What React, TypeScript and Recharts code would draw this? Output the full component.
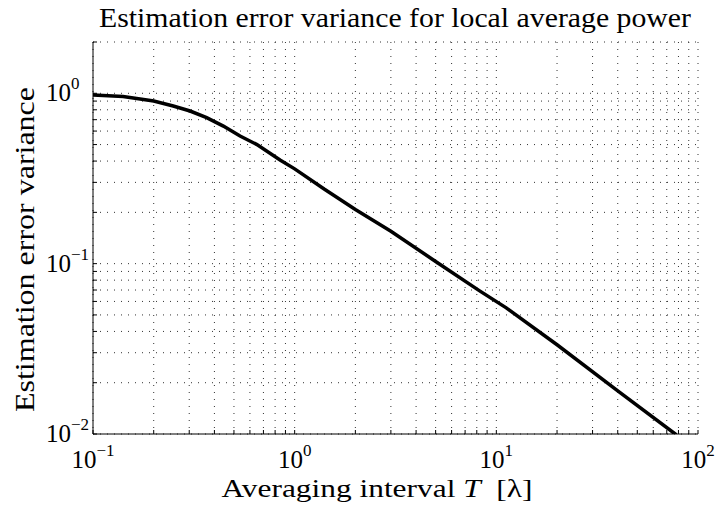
import { CartesianGrid, Line, LineChart, XAxis, YAxis } from "recharts";

// averaging interval T [lambda] and the estimation error variance
const intervalT = [0.1, 0.141, 0.2, 0.25, 0.303, 0.366, 0.443, 0.536, 0.65, 0.85, 1, 1.4, 2, 3, 5, 8.3, 11.2, 20, 40, 78];
const errorVariance = [
  0.977, 0.956, 0.9, 0.842, 0.787, 0.72, 0.642, 0.561, 0.5, 0.405, 0.36, 0.274, 0.208, 0.155, 0.103, 0.069, 0.055,
  0.0334, 0.0179, 0.0099,
];

const xDecades = [0.1, 1, 10, 100];
const yDecades = [0.01, 0.1, 1];
const minorSteps = [1, 2, 3, 4, 5, 6, 7, 8, 9];
const exponentLabels: Record<number, string> = { 0.01: "−2", 0.1: "−1", 1: "0", 10: "1", 100: "2" };

const xTicks = [...xDecades.slice(0, -1).flatMap((d) => minorSteps.map((m) => d * m)), 100];
const yTicks = yDecades.flatMap((d) => minorSteps.map((m) => d * m)).filter((v) => v <= 2.0001);

const data = intervalT.map((t, i) => ({ t, v: errorVariance[i] }));

const FONT = '"Liberation Serif", "Times New Roman", serif';

function XTick({ x, y, payload }: any) {
  const e = exponentLabels[payload.value];
  if (e === undefined) return <g />;
  return (
    <text x={x} y={y + 36} textAnchor="middle" style={{ fontFamily: FONT, fontSize: 25 }} fill="#000">
      <tspan>10</tspan>
      <tspan dy={-12} style={{ fontSize: 17 }}>{e}</tspan>
    </text>
  );
}

function YTick({ x, y, payload }: any) {
  const e = exponentLabels[payload.value];
  if (e === undefined) return <g />;
  return (
    <text x={x - 49} y={y + 8} textAnchor="start" style={{ fontFamily: FONT, fontSize: 25 }} fill="#000">
      <tspan>10</tspan>
      <tspan dy={-12} style={{ fontSize: 17 }}>{e}</tspan>
    </text>
  );
}

const noLabel = () => <g />;

export default function App() {
  return (
    <div style={{ position: "absolute", left: 0, top: 0, width: 717, height: 516, background: "#fff" }}>
      <LineChart width={717} height={516} data={data} margin={{ top: 42, right: 19, bottom: 42, left: 33 }}>
        <CartesianGrid stroke="#333" strokeDasharray="1 6" />
        <XAxis
          dataKey="t"
          type="number"
          scale="log"
          domain={[0.1, 100]}
          ticks={xTicks}
          interval={0}
          allowDataOverflow
          height={40}
          tickSize={-4}
          tickLine={{ stroke: "#000" }}
          axisLine={{ stroke: "#000" }}
          tick={<XTick />}
        />
        <XAxis
          xAxisId="top"
          orientation="top"
          type="number"
          scale="log"
          domain={[0.1, 100]}
          ticks={xTicks}
          interval={0}
          allowDataOverflow
          height={0}
          tickSize={-4}
          tickLine={{ stroke: "#000" }}
          axisLine={{ stroke: "#000" }}
          tick={noLabel}
        />
        <YAxis
          type="number"
          scale="log"
          domain={[0.01, 2]}
          ticks={yTicks}
          interval={0}
          allowDataOverflow
          width={60}
          tickSize={-4}
          tickLine={{ stroke: "#000" }}
          axisLine={{ stroke: "#000" }}
          tick={<YTick />}
        />
        <YAxis
          yAxisId="right"
          orientation="right"
          type="number"
          scale="log"
          domain={[0.01, 2]}
          ticks={yTicks}
          interval={0}
          allowDataOverflow
          width={0}
          tickSize={-4}
          tickLine={{ stroke: "#000" }}
          axisLine={{ stroke: "#000" }}
          tick={noLabel}
        />
        <Line dataKey="v" type="linear" stroke="#000" strokeWidth={3.5} dot={false} isAnimationActive={false} />
      </LineChart>
      <svg width={717} height={516} style={{ position: "absolute", left: 0, top: 0, pointerEvents: "none" }}>
        <g style={{ fontFamily: FONT }} fill="#000">
          <text x={395} y={27} textAnchor="middle" fontSize={27} textLength={592} lengthAdjust="spacingAndGlyphs">
            Estimation error variance for local average power
          </text>
          <text x={377} y={497} textAnchor="middle" fontSize={26} textLength={311} lengthAdjust="spacingAndGlyphs">
            Averaging interval <tspan fontStyle="italic">T</tspan>{"\u00a0\u00a0"}[λ]
          </text>
          <text
            transform="translate(34 249.5) rotate(-90)"
            textAnchor="middle"
            fontSize={27}
            textLength={325}
            lengthAdjust="spacingAndGlyphs"
          >
            Estimation error variance
          </text>
        </g>
      </svg>
    </div>
  );
}
